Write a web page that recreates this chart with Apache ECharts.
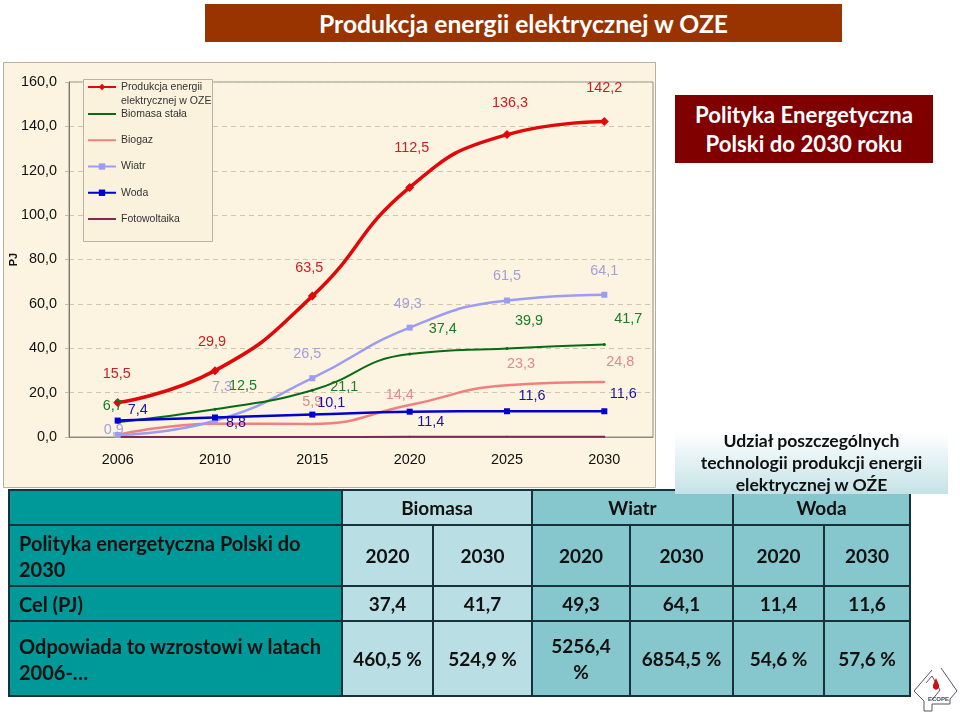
<!DOCTYPE html>
<html>
<head>
<meta charset="utf-8">
<script src="https://cdn.jsdelivr.net/npm/echarts@6/dist/echarts.min.js"></script>
<style>
  html, body { margin: 0; padding: 0; background: #fff; }
  #main { position: absolute; left: 0; top: 0; width: 960px; height: 714px; }
  .box { position: absolute; display: flex; align-items: center; justify-content: center; text-align: center;
         font-family: Lato, sans-serif; font-weight: 700; box-sizing: border-box; }
  #title { left: 205px; top: 4px; width: 637px; height: 38px; background: #993300; color: #fff; font-size: 24.7px; }
  #policy { left: 675px; top: 95px; width: 258px; height: 68px; background: #800000; color: #fff; font-size: 22.2px; line-height: 29px; }
  #share { left: 675px; top: 432px; width: 273px; height: 62px; color: #111; font-size: 17.6px; line-height: 22px; z-index: 3;
           background: linear-gradient(#fff, #c4e2e7); }
  #tbl { position: absolute; left: 8px; top: 489px; width: 901px; height: 207px; border-collapse: collapse; table-layout: fixed;
         font-family: Lato, sans-serif; font-weight: 700; font-size: 19px; color: #111; z-index: 2; }
  #tbl td { border: 2px solid #17323a; padding: 0 10px; text-align: center; line-height: 26px; }
  #tbl td.head { background: #009999; text-align: left; padding: 0 2px 0 9px; font-size: 20px; }
  #tbl td.bio { background: #b9dfe4; }
  #tbl td.oth { background: #86c6cd; }
</style>
</head>
<body>
<div id="main"></div>
<div id="title" class="box">Produkcja energii elektrycznej w OZE</div>
<div id="policy" class="box">Polityka Energetyczna<br>Polski do 2030 roku</div>
<div id="share" class="box">Udział poszczególnych<br>technologii produkcji energii<br>elektrycznej w OŹE</div>
<table id="tbl"></table>
<script>
// dane wykresu
const years = ['2006', '2010', '2015', '2020', '2025', '2030'];
const total = [15.5, 29.9, 63.5, 112.5, 136.3, 142.2];
const biomass = [6.7, 12.5, 21.1, 37.4, 39.9, 41.7];
const biogas = [0.9, 6.0, 5.9, 14.4, 23.3, 24.8];
const wind = [0.9, 7.3, 26.5, 49.3, 61.5, 64.1];
const water = [7.4, 8.8, 10.1, 11.4, 11.6, 11.6];
const solar = [0, 0, 0, 0.1, 0.1, 0.1];

// dane tabeli
const techNames = ['Biomasa', 'Wiatr', 'Woda'];
const targetYears = ['2020', '2030', '2020', '2030', '2020', '2030'];
const targets = ['37,4', '41,7', '49,3', '64,1', '11,4', '11,6'];
const growth = ['460,5 %', '524,9 %', '5256,4 %', '6854,5 %', '54,6 %', '57,6 %'];
const rowNames = ['Polityka energetyczna Polski do<br>2030', 'Cel (PJ)', 'Odpowiada to wzrostowi w latach<br>2006-…'];

// przesuniecia etykiet, null = bez etykiety
const totalOffsets = [[-1, -29], [-3, -29], [-3, -28], [2, -39], [3, -32], [0, -33]];
const biomassOffsets = [[-5, -16], [28, -23], [32, -3], [33, -25], [22, -27], [24, -25]];
const biogasOffsets = [null, null, [0, -22], [-10, -10], [14, -21], [16, -20]];
const windOffsets = [[-4, -5], [7, -34], [-5, -24], [-2, -24], [0, -25], [0, -24]];
const waterOffsets = [[20, -11], [21, 6], [19, -12], [21, 10], [25, -15], [19, -17]];

const fmt = v => v.toFixed(1).replace('.', ',');

function points(values, offsets, color) {
  return values.map((v, i) => ({
    value: v,
    label: offsets && offsets[i]
      ? { show: true, position: 'inside', offset: offsets[i], color: color, fontSize: 14.4, fontFamily: 'Liberation Sans', formatter: p => fmt(p.value) }
      : { show: false }
  }));
}

function lineSeries(name, values, offsets, color, labelColor, width, symbol, size) {
  return {
    name: name,
    type: 'line',
    smooth: true,
    data: points(values, offsets, labelColor),
    symbol: symbol,
    symbolSize: size,
    itemStyle: { color: color },
    lineStyle: { color: color, width: width },
    emphasis: { disabled: true }
  };
}

const legendText = { fontSize: 10.5, fontFamily: 'Liberation Sans', color: '#333', lineHeight: 14 };
// seria z malym znacznikiem: w legendzie tylko linia
const noMark = name => ({ name: name, itemStyle: { color: 'transparent' } });

var myChart = echarts.init(document.getElementById('main'), null, { renderer: 'canvas' });
myChart.setOption({
  animation: false,
  graphic: [
    // tlo wykresu
    { type: 'rect', z: -10, shape: { x: 3.5, y: 62.5, width: 652, height: 425 }, style: { fill: '#fcf4e0', stroke: '#b5b19f', lineWidth: 1 } },
    // ramka legendy
    { type: 'rect', z: 5, shape: { x: 83.5, y: 79.5, width: 129, height: 162 }, style: { fill: '#faf2dd', stroke: '#b8b4a4', lineWidth: 1 } },
    // logo
    { type: 'polyline', z: 1, shape: { points: [[932, 670], [914, 691], [924, 701], [924, 711], [932, 711], [932, 704], [950, 704], [950, 699], [957, 691], [941, 668]] }, style: { fill: 'none', stroke: '#556', lineWidth: 1 } },
    { type: 'polyline', z: 1, shape: { points: [[926, 683], [932, 676], [940, 690], [932, 700]] }, style: { fill: 'none', stroke: '#556', lineWidth: 1 } },
    { type: 'polygon', z: 1, shape: { points: [[936, 678], [939, 685], [939, 688], [936, 690], [933, 688], [933, 685]] }, style: { fill: '#d01010' } },
    { type: 'text', z: 1, style: { x: 928, y: 696, text: 'ECOPE', fontSize: 6, fontWeight: 'bold', fontFamily: 'Liberation Sans', fill: '#445' } }
  ],
  legend: [
    {
      data: ['Produkcja energii\nelektrycznej w OZE'],
      left: 87, top: 66, padding: 0, itemWidth: 28, itemHeight: 8, z: 6,
      selectedMode: false,
      // pusty wiersz zeby znacznik byl przy pierwszej linii
      formatter: n => '\n' + n,
      textStyle: legendText
    },
    {
      data: [noMark('Biomasa stała'), noMark('Biogaz'), 'Wiatr', 'Woda', noMark('Fotowoltaika')],
      left: 87, top: 107, padding: 0, orient: 'vertical', itemWidth: 28, itemHeight: 8, itemGap: 12.25, z: 6,
      selectedMode: false,
      textStyle: legendText
    }
  ],
  grid: { show: true, outerBoundsMode: 'none', left: 69, right: 307, top: 82, bottom: 277, borderColor: '#8f8f86', borderWidth: 1, backgroundColor: 'transparent' },
  xAxis: {
    type: 'category',
    data: years,
    axisLine: { lineStyle: { color: '#8a8a80' } },
    axisTick: { alignWithLabel: false, length: 4, lineStyle: { color: '#aaa89a' } },
    axisLabel: { color: '#111', fontSize: 14.4, fontFamily: 'Liberation Sans', margin: 16 }
  },
  yAxis: {
    type: 'value',
    min: 0, max: 160, interval: 20,
    name: 'PJ',
    nameLocation: 'middle',
    nameGap: 50,
    nameMoveOverlap: false,
    nameTextStyle: { color: '#111', fontSize: 11, fontWeight: 'bold', fontFamily: 'Liberation Sans' },
    axisLine: { show: true, lineStyle: { color: '#77776f' } },
    axisTick: { show: true, length: 4, lineStyle: { color: '#c4bca8' } },
    axisLabel: { color: '#111', fontSize: 14.4, fontFamily: 'Liberation Sans', margin: 12, padding: [3, 0, 0, 0], formatter: v => fmt(v) },
    splitLine: { show: true, lineStyle: { color: '#cfc6b2', type: [5, 4], width: 1 } }
  },
  series: [
    lineSeries('Fotowoltaika', solar, null, '#7f2a55', '#7f2a55', 2, 'circle', 2),
    lineSeries('Biogaz', biogas, biogasOffsets, '#f08080', '#df8a8a', 2.5, 'circle', 2),
    lineSeries('Wiatr', wind, windOffsets, '#9c9cf2', '#a0a0dc', 2.5, 'rect', 6),
    lineSeries('Biomasa stała', biomass, biomassOffsets, '#0a6a14', '#1c7a28', 2, 'circle', 3),
    lineSeries('Produkcja energii\nelektrycznej w OZE', total, totalOffsets, '#e00808', '#cf1c24', 3.5, 'diamond', 9),
    lineSeries('Woda', water, waterOffsets, '#0000d0', '#1a10b0', 2.5, 'rect', 6)
  ]
});

// tabela
const cell = (text, cls, extra) => '<td class="' + cls + '"' + (extra || '') + '>' + text + '</td>';
const colClass = i => (i < 2 ? 'bio' : 'oth');
const colWidths = [333, 91, 99, 98, 103, 91, 86];
document.getElementById('tbl').innerHTML =
  '<colgroup>' + colWidths.map(w => '<col style="width:' + w + 'px">').join('') + '</colgroup>' +
  '<tr style="height:35px">' + cell('', 'head') + techNames.map((t, i) => cell(t, i === 0 ? 'bio' : 'oth', ' colspan="2"')).join('') + '</tr>' +
  '<tr style="height:61px">' + cell(rowNames[0], 'head') + targetYears.map((t, i) => cell(t, colClass(i))).join('') + '</tr>' +
  '<tr style="height:35px">' + cell(rowNames[1], 'head') + targets.map((t, i) => cell(t, colClass(i))).join('') + '</tr>' +
  '<tr style="height:75px">' + cell(rowNames[2], 'head') + growth.map((t, i) => cell(t, colClass(i))).join('') + '</tr>';
</script>
</body>
</html>
